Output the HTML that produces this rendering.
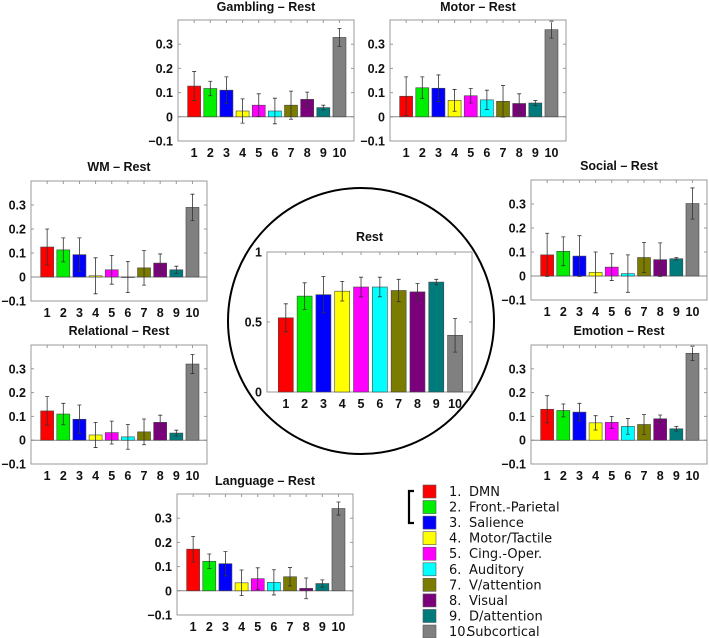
<!DOCTYPE html>
<html><head><meta charset="utf-8"><style>
body{margin:0;background:#fff;}
svg{display:block;font-family:"Liberation Sans",sans-serif;}
.t{font-weight:bold;font-size:12.5px;fill:#111}
.tk{font-weight:bold;font-size:12.5px;fill:#111}
.lg{font-family:"DejaVu Sans","Liberation Sans",sans-serif;font-size:13px;fill:#111}
</style></head><body>
<svg id="c" width="709" height="638"></svg>
<script>
const categories=["1","2","3","4","5","6","7","8","9","10"];
const legendNumbers=["1.","2.","3.","4.","5.","6.","7.","8.","9.","10."];
const legendLabels=["DMN","Front.-Parietal","Salience","Motor/Tactile","Cing.-Oper.","Auditory","V/attention","Visual","D/attention","Subcortical"];
const colors=["#ff0000","#00ee00","#0000ff","#ffff00","#ff00ff","#00ffff","#7b7b00","#7b007b","#007b7b","#808080"];
const smallTicks=[-0.1,0,0.1,0.2,0.3];
const smallTickLabels=["\u22120.1","0","0.1","0.2","0.3"];
const restTicks=[0,0.5,1];
const restTickLabels=["0","0.5","1"];
const gamblingValues=[.127,.117,.110,.024,.048,.024,.048,.072,.038,.328];
const gamblingErrors=[.06,.03,.055,.05,.047,.053,.058,.03,.01,.037];
const motorValues=[.085,.12,.118,.068,.087,.07,.064,.055,.057,.36];
const motorErrors=[.08,.045,.055,.045,.03,.04,.065,.04,.01,.035];
const wmValues=[.125,.113,.093,.005,.03,0,.038,.058,.03,.29];
const wmErrors=[.075,.05,.07,.075,.06,.065,.072,.038,.015,.055];
const socialValues=[.088,.103,.083,.015,.037,.01,.077,.068,.072,.302];
const socialErrors=[.09,.06,.085,.085,.056,.078,.063,.07,.005,.065];
const relationalValues=[.123,.11,.088,.022,.032,.014,.035,.075,.03,.32];
const relationalErrors=[.06,.045,.06,.053,.048,.052,.054,.03,.012,.04];
const emotionValues=[.13,.125,.118,.073,.075,.058,.066,.09,.048,.365];
const emotionErrors=[.057,.027,.037,.03,.025,.033,.042,.016,.01,.03];
const languageValues=[.172,.122,.112,.033,.05,.035,.058,.01,.03,.34];
const languageErrors=[.053,.03,.05,.053,.045,.052,.038,.043,.015,.027];
const restValues=[.53,.685,.695,.72,.75,.75,.725,.715,.785,.405];
const restErrors=[.1,.095,.13,.07,.07,.07,.08,.06,.02,.12];

const svg=document.getElementById('c');
const NS='http://www.w3.org/2000/svg';
function mk(tag,attrs,parent){const e=document.createElementNS(NS,tag);for(const k in attrs)e.setAttribute(k,attrs[k]);(parent||svg).appendChild(e);return e;}

function panel(name,title,vals,errs,L,T,W,H,ymin,ymax,ticks,tickLabels,bw,titleOff){
  const g=mk('g',{});
  
  
  const sx=W/10.9;
  const xs=i=>L+sx*(1+i);
  const ys=v=>T+H*(ymax-v)/(ymax-ymin);
  const box=mk('rect',{x:L,y:T,width:W,height:H,fill:'#fff',stroke:'#999','stroke-width':1},g);
  
  
  const tt=mk('text',{x:L+W/2,y:T-titleOff,'text-anchor':'middle',class:'t'},g);
  tt.textContent=title;
  
  
  ticks.forEach((t,k)=>{
    const y=ys(t);
    mk('line',{x1:L,x2:L+3,y1:y,y2:y,stroke:'#999'},g);
    mk('line',{x1:L+W-3,x2:L+W,y1:y,y2:y,stroke:'#999'},g);
    const tl=mk('text',{x:L-5,y:y+4.5,'text-anchor':'end',class:'tk'},g);
    tl.textContent=tickLabels[k];
    
    
  });
  if(ymin<0){mk('line',{x1:L,x2:L+W,y1:ys(0),y2:ys(0),stroke:'#888'},g);}
  vals.forEach((v,i)=>{
    const x=xs(i);
    const y0=ys(0),y1=ys(v);
    const r=mk('rect',{x:x-bw/2,y:Math.min(y0,y1),width:bw,height:Math.max(0.5,Math.abs(y0-y1)),fill:colors[i],stroke:'#444','stroke-width':0.6},g);
    
    
    const e=errs[i];
    const eb=mk('path',{d:`M${x},${ys(v+e)}V${ys(v-e)}M${x-2},${ys(v+e)}H${x+2}M${x-2},${ys(v-e)}H${x+2}`,stroke:'#333','stroke-width':0.8,fill:'none'},g);
    
    
    mk('line',{x1:x,x2:x,y1:T,y2:T+3,stroke:'#999'},g);
    const xl=mk('text',{x:x,y:T+H+16,'text-anchor':'middle',class:'tk'},g);
    xl.textContent=categories[i];
    
    
  });
}
const c=mk('circle',{cx:361,cy:321,r:133,fill:'#fff',stroke:'#000','stroke-width':2});



const sw=176,sh=121;
panel('gambling','Gambling \u2013 Rest',gamblingValues,gamblingErrors,178,20,sw,sh,-0.1,0.4,smallTicks,smallTickLabels,13,9);
panel('motor','Motor \u2013 Rest',motorValues,motorErrors,390,20,sw,sh,-0.1,0.4,smallTicks,smallTickLabels,13,9);
panel('wm','WM \u2013 Rest',wmValues,wmErrors,31,181,sw,120,-0.1,0.4,smallTicks,smallTickLabels,13,10);
panel('social','Social \u2013 Rest',socialValues,socialErrors,531,180,sw,120,-0.1,0.4,smallTicks,smallTickLabels,13,10);
panel('relational','Relational \u2013 Rest',relationalValues,relationalErrors,31,345,sw,119,-0.1,0.4,smallTicks,smallTickLabels,13,10);
panel('emotion','Emotion \u2013 Rest',emotionValues,emotionErrors,531,345,sw,119,-0.1,0.4,smallTicks,smallTickLabels,13,10);
panel('language','Language \u2013 Rest',languageValues,languageErrors,177,494,sw,121,-0.1,0.4,smallTicks,smallTickLabels,13,9);
panel('rest','Rest',restValues,restErrors,267,252,205,140,0,1,restTicks,restTickLabels,15,11);

const lg=mk('g',{});


const br=mk('path',{d:'M414,491H409V523H414',stroke:'#000','stroke-width':2.2,fill:'none'},lg);


legendLabels.forEach((l,i)=>{
  const y=491.5+i*15.56;
  const r=mk('rect',{x:423,y:y-6.5,width:13,height:13,fill:colors[i],stroke:'#555','stroke-width':0.6},lg);
  
  
  const n=mk('text',{x:449,y:y+4.5,class:'lg'},lg);
  n.textContent=legendNumbers[i];
  
  
  const t=mk('text',{x:i==9?467:469,y:y+4.5,class:'lg'},lg);
  t.textContent=l;
  
  
});
</script>
</body></html>
